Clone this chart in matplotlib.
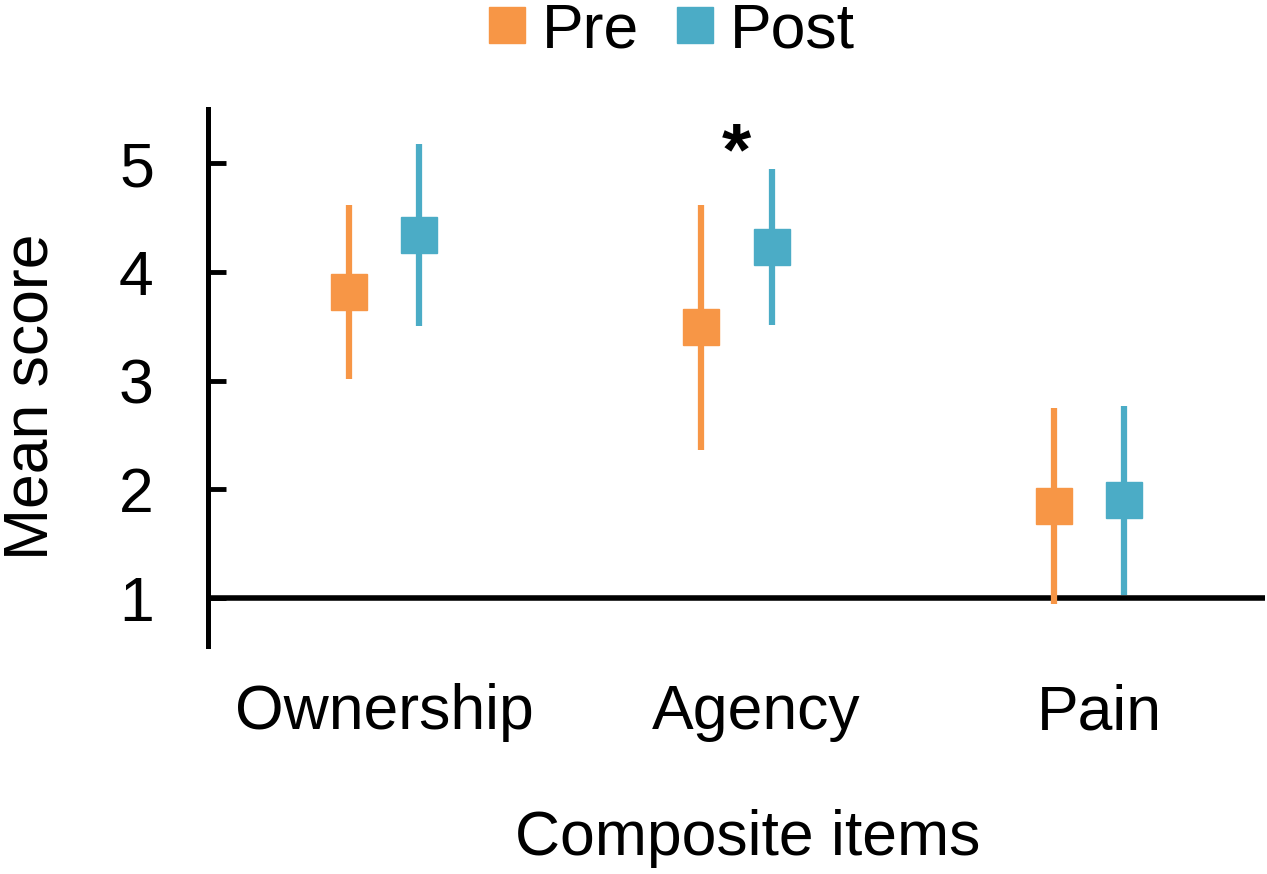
import matplotlib.pyplot as plt
from matplotlib.lines import Line2D

plt.rcParams['font.family'] = ['Liberation Sans', 'DejaVu Sans']

# data: mean and SD per item
items = ['Ownership', 'Agency', 'Pain']
pre_mean = [3.82, 3.49, 1.85]
pre_sd = [0.80, 1.13, 0.90]
post_mean = [4.34, 4.23, 1.90]
post_sd = [0.84, 0.72, 0.87]
signif = ['', '*', '']

PRE_COL = '#F79646'
POST_COL = '#4BACC6'
FS = 45

fig = plt.figure(figsize=(12.67, 8.74), dpi=100)
ax = fig.add_axes([0.1642, 0.2609, 0.8342, 0.6144])

x = list(range(len(items)))
off = 0.1
ax.errorbar([i - off for i in x], pre_mean, yerr=pre_sd, fmt='s', color=PRE_COL,
            ms=26.5, elinewidth=4.5, capsize=0, zorder=3)
ax.errorbar([i + off for i in x], post_mean, yerr=post_sd, fmt='s', color=POST_COL,
            ms=26.5, elinewidth=4.5, capsize=0, zorder=3)

for i, s in enumerate(signif):
    if s:
        top = max(pre_mean[i] + pre_sd[i], post_mean[i] + post_sd[i])
        ax.text(i, top + 0.13, s, ha='center', va='center', fontsize=54,
                fontweight='bold')

ax.axhline(1, color='black', lw=4, zorder=1)

ax.set_xlim(-0.5, 2.5)
ax.set_ylim(0.56, 5.5)
ax.set_yticks([1, 2, 3, 4, 5])
ax.set_xticks([0, 1.057, 2.03])
ax.set_xticklabels(items)

for side in ['top', 'right', 'bottom']:
    ax.spines[side].set_visible(False)
ax.spines['left'].set_linewidth(3.6)

ax.tick_params(axis='y', direction='in', length=13, width=3.5, pad=39, labelsize=FS)
ax.tick_params(axis='x', length=0, pad=27, labelsize=FS)

ax.set_ylabel('Mean score', fontsize=FS, labelpad=42, y=0.4637)
ax.set_xlabel('Composite items', fontsize=FS, labelpad=48, x=0.511)

handles = [Line2D([], [], ls='none', marker='s', ms=26, color=PRE_COL),
           Line2D([], [], ls='none', marker='s', ms=26, color=POST_COL)]
fig.legend(handles, ['Pre', 'Post'], loc='center', bbox_to_anchor=(0.53, 0.965),
           ncol=2, frameon=False, fontsize=FS, handlelength=0.6,
           handletextpad=0.25, columnspacing=0.6, borderpad=0, borderaxespad=0)

fig.savefig('out.png', dpi=100)
